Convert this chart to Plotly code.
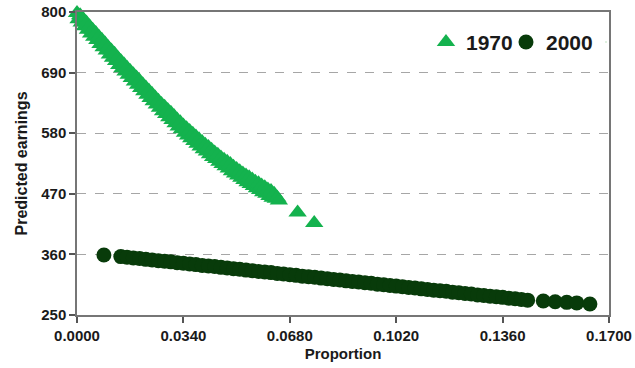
import plotly.graph_objects as go

# ---- data ----
x_1970 = [0.0000, 0.0005, 0.0010, 0.0015, 0.0020, 0.0025, 0.0030, 0.0035, 0.0040, 0.0045,
          0.0050, 0.0055, 0.0060, 0.0065, 0.0070, 0.0075, 0.0080, 0.0085, 0.0090, 0.0095,
          0.0100, 0.0105, 0.0110, 0.0115, 0.0120, 0.0125, 0.0130, 0.0135, 0.0140, 0.0145,
          0.0150, 0.0155, 0.0160, 0.0165, 0.0170, 0.0175, 0.0180, 0.0185, 0.0190, 0.0195,
          0.0200, 0.0205, 0.0210, 0.0215, 0.0220, 0.0225, 0.0230, 0.0235, 0.0240, 0.0245,
          0.0250, 0.0255, 0.0260, 0.0265, 0.0270, 0.0275, 0.0280, 0.0285, 0.0290, 0.0295,
          0.0300, 0.0305, 0.0310, 0.0315, 0.0320, 0.0325, 0.0330, 0.0335, 0.0340, 0.0345,
          0.0350, 0.0355, 0.0360, 0.0365, 0.0370, 0.0375, 0.0380, 0.0385, 0.0390, 0.0395,
          0.0400, 0.0405, 0.0410, 0.0415, 0.0420, 0.0425, 0.0430, 0.0435, 0.0440, 0.0445,
          0.0450, 0.0455, 0.0460, 0.0465, 0.0470, 0.0475, 0.0480, 0.0485, 0.0490, 0.0495,
          0.0500, 0.0505, 0.0510, 0.0515, 0.0520, 0.0525, 0.0530, 0.0535, 0.0540, 0.0545,
          0.0550, 0.0555, 0.0560, 0.0565, 0.0570, 0.0575, 0.0580, 0.0585, 0.0590, 0.0595,
          0.0600, 0.0605, 0.0610, 0.0615, 0.0620, 0.0625, 0.0630, 0.0635, 0.0640, 0.0645,
          0.0705, 0.0758]
y_1970 = [798, 787, 794, 781, 787, 774, 781, 768, 774, 761,
          768, 755, 762, 749, 755, 742, 749, 736, 743, 730,
          736, 723, 730, 717, 724, 711, 717, 704, 711, 698,
          705, 692, 699, 686, 693, 680, 687, 674, 681, 668,
          675, 662, 669, 656, 663, 650, 657, 644, 651, 638,
          645, 632, 639, 626, 633, 620, 628, 615, 622, 609,
          617, 604, 611, 598, 605, 592, 600, 587, 594, 581,
          589, 576, 584, 571, 579, 566, 574, 561, 569, 556,
          564, 551, 559, 547, 555, 542, 550, 537, 545, 533,
          541, 528, 536, 524, 532, 520, 528, 516, 524, 511,
          519, 507, 515, 503, 511, 499, 507, 495, 503, 491,
          500, 488, 496, 484, 492, 480, 489, 477, 485, 473,
          482, 470, 478, 466, 475, 463, 470, 461, 463, 458,
          436, 417]

x_2000 = [0.0086, 0.014, 0.016, 0.018, 0.020, 0.022, 0.024, 0.026, 0.028, 0.030,
          0.032, 0.034, 0.036, 0.038, 0.040, 0.042, 0.044, 0.046, 0.048, 0.050,
          0.052, 0.054, 0.056, 0.058, 0.060, 0.062, 0.064, 0.066, 0.068, 0.070,
          0.072, 0.074, 0.076, 0.078, 0.080, 0.082, 0.084, 0.086, 0.088, 0.090,
          0.092, 0.094, 0.096, 0.098, 0.100, 0.102, 0.104, 0.106, 0.108, 0.110,
          0.112, 0.114, 0.116, 0.118, 0.120, 0.122, 0.124, 0.126, 0.128, 0.130,
          0.132, 0.134, 0.136, 0.138, 0.140, 0.142, 0.144, 0.1490, 0.1528, 0.1565,
          0.1597, 0.1639]
y_2000 = [359, 356, 355, 353.5, 352.5, 351, 350, 348.5, 347.5, 346.5,
          345, 344, 342.5, 341.5, 340, 339, 338, 336.5, 335.5, 334,
          333, 331.5, 330.5, 329, 328, 327, 325.5, 324.5, 323, 322,
          320.5, 319.5, 318.5, 317, 316, 314.5, 313.5, 312, 311, 310,
          308.5, 307.5, 306, 305, 303.5, 302.5, 301.5, 300, 299, 297.5,
          296.5, 295, 294, 293, 291.5, 290.5, 289, 288, 286.5, 285.5,
          284, 283, 282, 280.5, 279.5, 278, 277, 275.5, 274, 273,
          272, 270]

x_ticks = [0.0, 0.034, 0.068, 0.102, 0.136, 0.170]
y_ticks = [250, 360, 470, 580, 690, 800]

series_names = ["1970", "2000"]
FONT = "Liberation Sans, Arial, sans-serif"

fig = go.Figure()
fig.add_trace(go.Scatter(
    x=x_1970, y=y_1970, mode="markers", name=series_names[0],
    marker=dict(symbol="triangle-up", size=16, color="#14B24E", line=dict(width=0)),
    cliponaxis=False,
))
fig.add_trace(go.Scatter(
    x=x_2000, y=y_2000, mode="markers", name=series_names[1],
    marker=dict(symbol="circle", size=15, color="#083B0A", line=dict(width=0)),
    cliponaxis=False,
))
# empty, invisible legend spacer so the last legend label is not clipped
fig.add_trace(go.Scatter(
    x=[None], y=[None], mode="markers", name=" ", hoverinfo="skip",
    marker=dict(opacity=0, size=1), showlegend=True,
))

fig.update_layout(
    template="none",
    width=635, height=368,
    margin=dict(l=77, r=26, t=12, b=53, autoexpand=False),
    paper_bgcolor="white", plot_bgcolor="white",
    font=dict(family=FONT, color="#1a1a1a"),
    showlegend=True,
    legend=dict(
        orientation="h", x=0.656, y=0.90, xanchor="left", yanchor="middle",
        font=dict(family=FONT, size=21, weight="bold", color="#1a1a1a"),
        bgcolor="rgba(0,0,0,0)", itemwidth=30, tracegroupgap=0,
        entrywidth=35, entrywidthmode="pixels", itemclick=False, itemdoubleclick=False,
    ),
    xaxis=dict(
        range=[0, 0.17], tickvals=x_ticks, tickformat=".4f", automargin=False,
        showgrid=False, zeroline=False,
        showline=True, linecolor="#767676", linewidth=1.5, mirror=True,
        ticks="outside", ticklen=6, tickcolor="#555555", tickwidth=1.5,
        tickfont=dict(family=FONT, size=15, weight="bold", color="#1a1a1a"),
        title=dict(text="Proportion", standoff=6,
                   font=dict(family=FONT, size=15, weight="bold", color="#1a1a1a")),
    ),
    yaxis=dict(
        range=[250, 800], tickvals=y_ticks, automargin=False,
        showgrid=True, gridcolor="#a6a6a6", griddash="dash", gridwidth=1,
        zeroline=False,
        showline=True, linecolor="#767676", linewidth=1.5, mirror=True,
        ticks="outside", ticklen=6, tickcolor="#555555", tickwidth=1.5,
        tickfont=dict(family=FONT, size=15, weight="bold", color="#1a1a1a"),
        title=dict(text="Predicted earnings", standoff=10,
                   font=dict(family=FONT, size=16, weight="bold", color="#1a1a1a")),
    ),
)

fig.write_html(
    "out.html",
    config={"displayModeBar": False},
    post_script="document.body.style.margin='0';document.body.style.overflow='hidden';",
)
